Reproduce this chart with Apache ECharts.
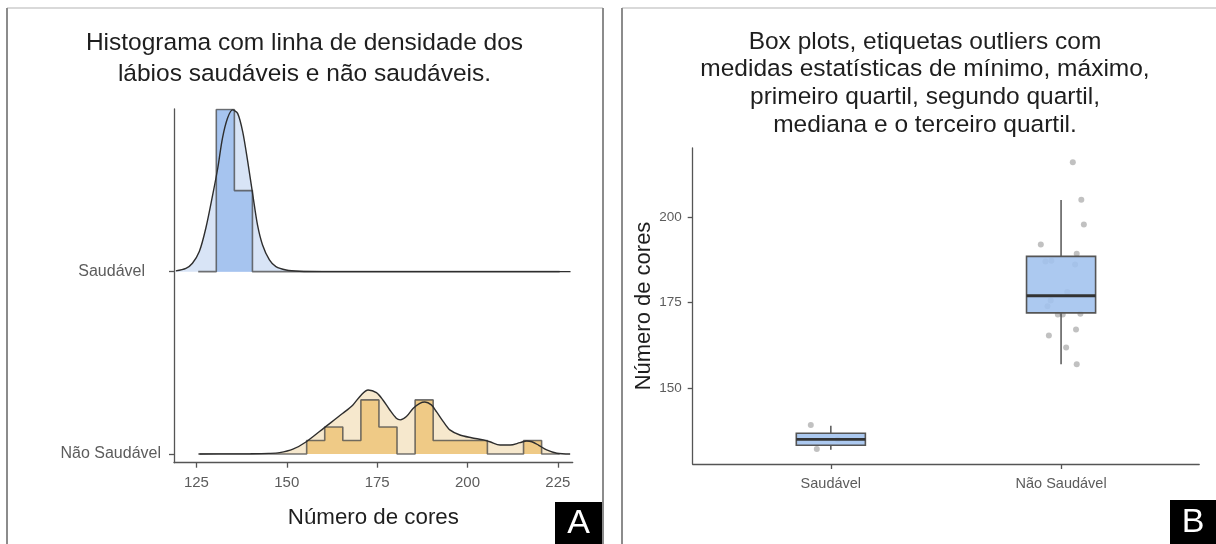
<!DOCTYPE html>
<html>
<head>
<meta charset="utf-8">
<script src="https://cdn.jsdelivr.net/npm/echarts@6/dist/echarts.min.js"></script>
<style>
  html, body { margin: 0; padding: 0; background: #ffffff; }
  #chart { width: 1216px; height: 544px; }
</style>
</head>
<body>
<div id="chart"></div>
<script>
// ---------- Panel A: ridgeline histogram + density ----------
const ridgeGroups = ['Não Saudável', 'Saudável'];   // baseline 1 and 2 on the ridge axis
const binStart = 125.5;
const binWidth = 5;
const binCountsSaudavel    = [0, 2, 1, 0, 0, 0, 0, 0, 0, 0, 0, 0, 0, 0, 0, 0, 0, 0, 0, 0];
const binCountsNaoSaudavel = [0, 0, 0, 0, 0, 0, 1, 2, 1, 4, 2, 0, 4, 1, 1, 1, 0, 0, 1, 0];
// kernel density heights, as a fraction of the spacing between ridges
const densitySaudavel = [
  [119.3, 0.004], [122.1, 0.018], [123.9, 0.046], [125.8, 0.110], [127.6, 0.238],
  [129.5, 0.421], [130.9, 0.567], [132.2, 0.731], [133.6, 0.841], [135.0, 0.887],
  [136.4, 0.868], [137.8, 0.768], [139.2, 0.603], [140.6, 0.421], [141.9, 0.256],
  [143.3, 0.146], [145.2, 0.064], [147.0, 0.027], [149.8, 0.009], [153.5, 0.002],
  [160.0, 0.000], [228.5, 0.000]
];
const densityNaoSaudavel = [
  [125.8, 0.000], [135.0, 0.0005], [140.0, 0.001], [145.0, 0.003], [148.0, 0.007],
  [151.7, 0.026], [155.4, 0.067], [160.5, 0.146], [165.5, 0.223], [168.3, 0.269],
  [170.6, 0.324], [172.5, 0.351], [174.8, 0.336], [176.6, 0.296], [178.5, 0.241],
  [180.3, 0.196], [181.4, 0.187], [183.1, 0.205], [185.0, 0.251], [186.8, 0.278],
  [188.2, 0.285], [190.0, 0.269], [191.4, 0.232], [193.3, 0.177], [195.1, 0.132],
  [197.9, 0.104], [201.1, 0.089], [204.4, 0.077], [206.2, 0.067], [209.0, 0.049],
  [211.8, 0.049], [214.5, 0.062], [216.4, 0.071], [217.8, 0.067], [219.6, 0.049],
  [221.9, 0.022], [224.7, 0.004], [228.4, 0.000]
];
const xTicksA = [125, 150, 175, 200, 225];
const ridgeScale = 0.889;   // tallest histogram bar, in ridge spacings

// ---------- Panel B: box plots + jittered observations ----------
const boxCategories = ['Saudável', 'Não Saudável'];
// [min, Q1, median, Q3, max]
const boxStats = [
  [132, 133.3, 135, 136.8, 139],
  [157, 172, 177, 188.5, 205]
];
const valuesSaudavel = [139.2, 135.0, 132.2];
const jitterSaudavel = [-0.087, 0.030, -0.061];
const valuesNaoSaudavel = [
  216.0, 205.1, 197.8, 192.0, 189.3, 187.0, 187.2, 186.1, 178.1,
  175.6, 173.9, 171.5, 171.5, 171.7, 167.1, 165.4, 161.9, 157.0
];
const jitterNaoSaudavel = [
  0.051, 0.088, 0.099, -0.088, 0.068, -0.068, -0.042, 0.061, 0.027,
  -0.045, -0.059, -0.014, 0.007, 0.084, 0.065, -0.053, 0.022, 0.068
];
const yTicksB = [150, 175, 200];

// ---------- derived series data ----------
function sum(a) { return a.reduce((s, v) => s + v, 0); }
const densOf = (counts) => counts.map(c => c / (sum(counts) * binWidth));
const maxBinDensity = Math.max(...densOf(binCountsSaudavel), ...densOf(binCountsNaoSaudavel));
const heightPerDensity = ridgeScale / maxBinDensity;

function histOutline(counts, base) {
  const d = densOf(counts);
  const pts = [[binStart, base]];
  d.forEach((v, i) => pts.push([binStart + i * binWidth, base + v * heightPerDensity]));
  const end = binStart + counts.length * binWidth;
  pts.push([end, base + d[d.length - 1] * heightPerDensity]);
  pts.push([end, base]);
  return pts;
}
function ridgeCurve(dens, base) { return dens.map(p => [p[0], base + p[1]]); }

const FONT = 'Liberation Sans, Arial, sans-serif';
const LINE = '#555555';
const TEXT_AXIS = '#5c5c5c';

function ridgeSeries(name, counts, dens, base, lightFill, binFill) {
  return [
    { name: name + ' densidade', type: 'line', xAxisIndex: 0, yAxisIndex: 0,
      data: ridgeCurve(dens, base), smooth: 0.3, showSymbol: false, z: 1,
      lineStyle: { width: 0 }, areaStyle: { color: lightFill, opacity: 1, origin: base } },
    { name: name + ' histograma', type: 'line', xAxisIndex: 0, yAxisIndex: 0,
      data: histOutline(counts, base), step: 'end', showSymbol: false, z: 2,
      lineStyle: { color: 'rgba(70,70,70,0.75)', width: 1.6 },
      areaStyle: { color: binFill, opacity: 1, origin: base } },
    { name: name + ' curva', type: 'line', xAxisIndex: 0, yAxisIndex: 0,
      data: ridgeCurve(dens, base), smooth: 0.3, showSymbol: false, z: 3,
      lineStyle: { color: '#2e2e2e', width: 1.4 } }
  ];
}

const boxData = boxStats.map((s, i) => [i + 1].concat(s));
const pointData = valuesSaudavel.map((v, i) => [1 + jitterSaudavel[i], v])
  .concat(valuesNaoSaudavel.map((v, i) => [2 + jitterNaoSaudavel[i], v]));

const chart = echarts.init(document.getElementById('chart'), null, { renderer: 'canvas' });

chart.setOption({
  animation: false,
  backgroundColor: '#ffffff',
  textStyle: { fontFamily: FONT },
  title: [
    { text: 'Histograma com linha de densidade dos\nlábios saudáveis e não saudáveis.',
      left: 299.5, top: 23, textAlign: 'center',
      textStyle: { fontFamily: FONT, fontSize: 24.5, fontWeight: 'normal', color: '#1e1e1e', lineHeight: 31 } },
    { text: 'Box plots, etiquetas outliers com\nmedidas estatísticas de mínimo, máximo,\nprimeiro quartil, segundo quartil,\nmediana e o terceiro quartil.',
      left: 920, top: 23, textAlign: 'center',
      textStyle: { fontFamily: FONT, fontSize: 24.5, fontWeight: 'normal', color: '#1e1e1e', lineHeight: 27.7 } }
  ],
  grid: [
    { left: 174, top: 109, right: 643.3, bottom: 81.3, outerBoundsMode: 'none', containLabel: false },
    { left: 692.7, top: 148, right: 16.8, bottom: 80, outerBoundsMode: 'none', containLabel: false }
  ],
  xAxis: [
    { gridIndex: 0, type: 'value', min: 118.8, max: 229.1,
      name: 'Número de cores', nameLocation: 'middle', nameGap: 44,
      nameTextStyle: { fontFamily: FONT, fontSize: 22.3, color: '#1e1e1e' },
      axisLine: { show: true, onZero: false, lineStyle: { color: LINE, width: 1.3 } },
      axisTick: { show: true, length: 5, customValues: xTicksA, lineStyle: { color: LINE, width: 1.3 } },
      axisLabel: { customValues: xTicksA, margin: 13, fontFamily: FONT, fontSize: 15, color: TEXT_AXIS },
      splitLine: { show: false } },
    { gridIndex: 1, type: 'value', min: 0.4, max: 2.6,
      axisLine: { show: true, onZero: false, lineStyle: { color: LINE, width: 1.3 } },
      axisTick: { show: true, length: 5, customValues: [1, 2], lineStyle: { color: LINE, width: 1.3 } },
      axisLabel: { customValues: [1, 2], margin: 12, fontFamily: FONT, fontSize: 14.5, color: TEXT_AXIS,
        formatter: v => boxCategories[Math.round(v) - 1] },
      splitLine: { show: false } }
  ],
  yAxis: [
    { gridIndex: 0, type: 'value', min: 0.952, max: 2.892,
      axisLine: { show: true, onZero: false, lineStyle: { color: LINE, width: 1.3 } },
      axisTick: { show: true, length: 5, customValues: [1, 2], lineStyle: { color: LINE, width: 1.3 } },
      axisLabel: { customValues: [1, 2], margin: 13, fontFamily: FONT, fontSize: 16, color: TEXT_AXIS,
        formatter: v => (Math.round(v) === 2 ? '{up|' + ridgeGroups[1] + '}' : ridgeGroups[0]),
        rich: { up: { fontFamily: FONT, fontSize: 16, color: TEXT_AXIS, padding: [0, 16, 0, 0] } } },
      splitLine: { show: false } },
    { gridIndex: 1, type: 'value', min: 127.8, max: 220.2,
      name: 'Número de cores', nameLocation: 'middle', nameGap: 38, nameRotate: 90,
      nameTextStyle: { fontFamily: FONT, fontSize: 22, color: '#1e1e1e' },
      axisLine: { show: true, onZero: false, lineStyle: { color: LINE, width: 1.3 } },
      axisTick: { show: true, length: 5, customValues: yTicksB, lineStyle: { color: LINE, width: 1.3 } },
      axisLabel: { customValues: yTicksB, margin: 11, fontFamily: FONT, fontSize: 13.5, color: TEXT_AXIS },
      splitLine: { show: false } }
  ],
  series: [
    ...ridgeSeries('Saudável', binCountsSaudavel, densitySaudavel, 2, '#d8e4f6', '#a6c4ef'),
    ...ridgeSeries('Não Saudável', binCountsNaoSaudavel, densityNaoSaudavel, 1, '#f6e8cd', '#efca86'),
    { name: 'observações', type: 'scatter', xAxisIndex: 1, yAxisIndex: 1, z: 1,
      data: pointData, symbolSize: 6, silent: true,
      itemStyle: { color: 'rgba(125,125,125,0.6)' } },
    { name: 'box plot', type: 'custom', xAxisIndex: 1, yAxisIndex: 1, z: 2,
      data: boxData,
      renderItem: function (params, api) {
        const x = api.value(0);
        const half = api.size([0.3, 0])[0] / 2;
        const pMin = api.coord([x, api.value(1)]);
        const pQ1 = api.coord([x, api.value(2)]);
        const pMed = api.coord([x, api.value(3)]);
        const pQ3 = api.coord([x, api.value(4)]);
        const pMax = api.coord([x, api.value(5)]);
        const wStyle = { stroke: '#555555', lineWidth: 1.5 };
        return { type: 'group', children: [
          { type: 'line', shape: { x1: pMax[0], y1: pMax[1], x2: pQ3[0], y2: pQ3[1] }, style: wStyle },
          { type: 'line', shape: { x1: pQ1[0], y1: pQ1[1], x2: pMin[0], y2: pMin[1] }, style: wStyle },
          { type: 'rect', shape: { x: pQ3[0] - half, y: pQ3[1], width: 2 * half, height: pQ1[1] - pQ3[1] },
            style: { fill: 'rgba(160,194,238,0.88)', stroke: '#555555', lineWidth: 1.6 } },
          { type: 'line', shape: { x1: pMed[0] - half, y1: pMed[1], x2: pMed[0] + half, y2: pMed[1] },
            style: { stroke: '#333333', lineWidth: 2.8 } }
        ] };
      } }
  ],
  graphic: [
    // panel frames
    { type: 'line', shape: { x1: 7, y1: 8, x2: 603, y2: 8 }, style: { stroke: '#cccccc', lineWidth: 1.5 }, silent: true },
    { type: 'line', shape: { x1: 7, y1: 8, x2: 7, y2: 544 }, style: { stroke: '#8c8c8c', lineWidth: 2 }, silent: true },
    { type: 'line', shape: { x1: 603, y1: 8, x2: 603, y2: 544 }, style: { stroke: '#8c8c8c', lineWidth: 2 }, silent: true },
    { type: 'line', shape: { x1: 622, y1: 8, x2: 1216, y2: 8 }, style: { stroke: '#cccccc', lineWidth: 1.5 }, silent: true },
    { type: 'line', shape: { x1: 622, y1: 8, x2: 622, y2: 544 }, style: { stroke: '#8c8c8c', lineWidth: 2 }, silent: true },
    // panel letters
    { type: 'rect', shape: { x: 555, y: 502, width: 47, height: 42 }, style: { fill: '#000000' }, silent: true },
    { type: 'text', x: 578.5, y: 524, style: { text: 'A', fill: '#ffffff', font: '34px ' + FONT, textAlign: 'center', textVerticalAlign: 'middle' }, silent: true },
    { type: 'rect', shape: { x: 1170, y: 500, width: 46, height: 44 }, style: { fill: '#000000' }, silent: true },
    { type: 'text', x: 1193, y: 523, style: { text: 'B', fill: '#ffffff', font: '34px ' + FONT, textAlign: 'center', textVerticalAlign: 'middle' }, silent: true }
  ]
});
</script>
</body>
</html>
